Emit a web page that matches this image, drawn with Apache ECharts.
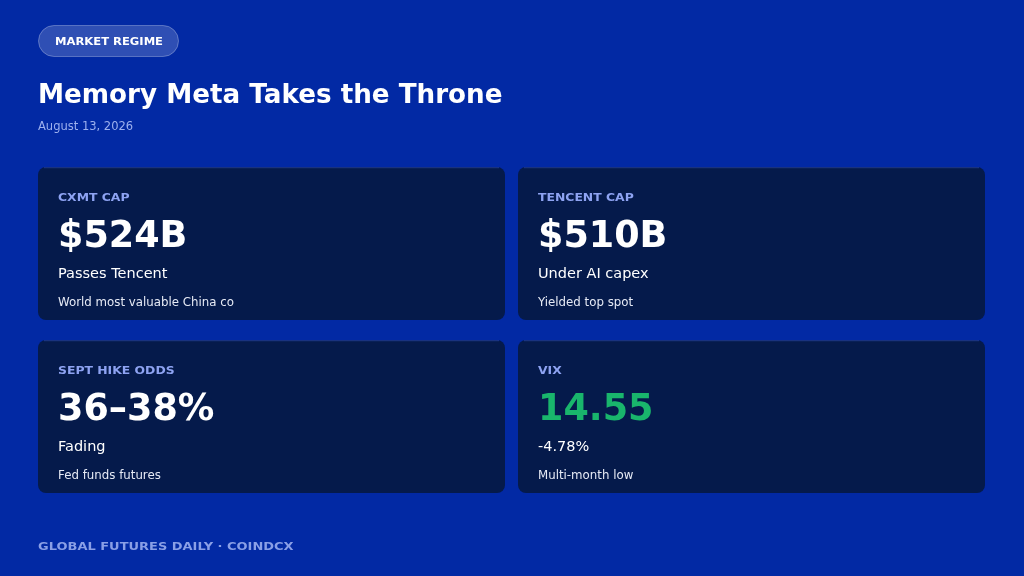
<!DOCTYPE html>
<html><head><meta charset="utf-8">
<script src="https://cdn.jsdelivr.net/npm/echarts@6/dist/echarts.min.js"></script>
<style>html,body{margin:0;padding:0;background:#0229a4;}#c{width:1024px;height:576px;}</style>
</head><body><div id="c"></div>
<script>
const badge = "MARKET REGIME";
const title = "Memory Meta Takes the Throne";
const dateText = "August 13, 2026";
const footer = "GLOBAL FUTURES DAILY · COINDCX";
const cardLabels = ["CXMT CAP", "TENCENT CAP", "SEPT HIKE ODDS", "VIX"];
const cardValues = ["$524B", "$510B", "36–38%", "14.55"];
const cardSubs = ["Passes Tencent", "Under AI capex", "Fading", "-4.78%"];
const cardNotes = ["World most valuable China co", "Yielded top spot", "Fed funds futures", "Multi-month low"];
const valueColors = ["#ffffff", "#ffffff", "#ffffff", "#19b56c"];

const chart = echarts.init(document.getElementById('c'), null, {renderer: 'canvas'});
const F = "'DejaVu Sans', 'Noto Sans', sans-serif";
const G = [];
G.push({type:'rect', shape:{x:0,y:0,width:1024,height:576}, style:{fill:'#0229a4'}});
G.push({type:'rect', shape:{x:38.5,y:25.5,width:140,height:31,r:15.5}, style:{fill:'rgba(255,255,255,0.18)', stroke:'rgba(255,255,255,0.28)', lineWidth:1}});
G.push({type:'text', x:55, y:42, scaleX:1.1, style:{text:badge, fill:'#ffffff', font:"bold 10.5px "+F, verticalAlign:'middle'}});
G.push({type:'text', x:38, y:96, style:{text:title, fill:'#ffffff', font:"bold 26.2px "+F, verticalAlign:'middle'}});
G.push({type:'text', x:38, y:127, style:{text:dateText, fill:'#9db0ee', font:"11.5px "+F, verticalAlign:'middle'}});
G.push({type:'text', x:38, y:547, scaleX:1.18, style:{text:footer, fill:'#8a9fe6', font:"bold 11px "+F, verticalAlign:'middle'}});
const cw = 467, ch = 153;
cardLabels.forEach((lab, i) => {
  const x = 38 + (i % 2) * 480;
  const y = 167 + Math.floor(i / 2) * 173;
  G.push({type:'rect', shape:{x:x,y:y,width:cw,height:ch,r:8}, style:{fill:'#051a4b'}});
  G.push({type:'rect', shape:{x:x+6,y:y,width:cw-12,height:1.2}, style:{fill:'rgba(50,80,190,0.45)'}});
  G.push({type:'text', x:x+20, y:y+31, scaleX:1.18, style:{text:lab, fill:'#8ea3f2', font:"bold 10.5px "+F, verticalAlign:'middle'}});
  G.push({type:'text', x:x+20, y:y+71, style:{text:cardValues[i], fill:valueColors[i], font:"bold 36.5px "+F, verticalAlign:'middle'}});
  G.push({type:'text', x:x+20, y:y+107, style:{text:cardSubs[i], fill:'#ffffff', font:"14.5px "+F, verticalAlign:'middle'}});
  G.push({type:'text', x:x+20, y:y+136, style:{text:cardNotes[i], fill:'#e6eaf5', font:"11.8px "+F, verticalAlign:'middle'}});
});
chart.setOption({animation:false, backgroundColor:'#0229a4', graphic:G});
</script></body></html>
